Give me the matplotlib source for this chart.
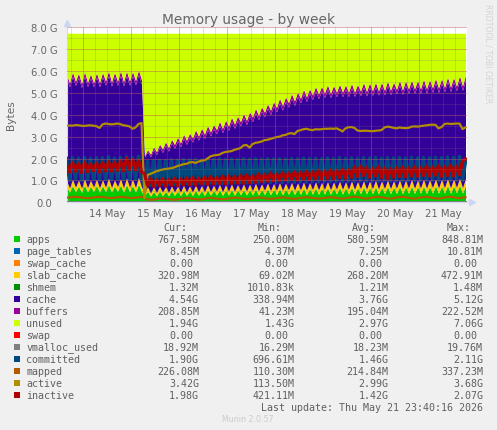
import numpy as np
import matplotlib
matplotlib.use("Agg")
import matplotlib.pyplot as plt
from matplotlib.transforms import ScaledTranslation

W, H = 497, 431
SAMPLE_DAYS = 1.5 / 24
START_DAY = -1 / 3 - 0.25 / 24

apps = [.72,.46,.76,.48,.74,.45,.78,.47,.73,.49,.77,.46,.75,.48,.80,.47,.74,.50,.78,.46,
        .81,.48,.76,.47,.83,.49,.30,.50,.28,.49,.29,.52,.30,.50,.29,.53,.31,.51,.30,.54,
        .31,.52,.30,.55,.32,.53,.31,.56,.32,.54,.33,.57,.31,.55,.33,.58,.32,.56,.34,.58,
        .33,.57,.34,.60,.33,.58,.35,.61,.34,.59,.35,.62,.34,.60,.36,.63,.35,.61,.36,.64,
        .35,.62,.37,.65,.36,.63,.37,.66,.36,.64,.38,.67,.37,.65,.38,.68,.37,.66,.39,.69,
        .38,.67,.39,.70,.38,.68,.40,.71,.39,.69,.40,.72,.39,.70,.41,.73,.40,.71,.41,.74,
        .40,.72,.42,.75,.41,.73,.42,.76,.41,.74,.43,.78,.42,.77]
slab_cache = [.26,.19,.28,.20,.27,.18,.29,.19,.27,.20,.28,.19,.27,.20,.30,.19,.27,.21,.29,.19,
        .30,.20,.28,.19,.31,.20,.14,.20,.13,.21,.14,.21,.15,.22,.14,.21,.15,.22,.15,.23,
        .15,.22,.16,.23,.15,.23,.16,.24,.16,.23,.17,.24,.16,.24,.17,.25,.17,.24,.18,.25,
        .17,.25,.18,.26,.18,.25,.19,.26,.18,.26,.19,.27,.19,.26,.20,.27,.19,.27,.20,.28,
        .20,.27,.20,.28,.20,.27,.21,.28,.20,.28,.21,.29,.21,.28,.21,.29,.21,.28,.22,.29,
        .21,.29,.22,.30,.22,.29,.22,.30,.22,.29,.23,.30,.22,.30,.23,.31,.23,.30,.23,.31,
        .23,.30,.24,.31,.23,.31,.24,.32,.24,.31,.24,.32,.24,.32]
cache = [4.66,4.62,4.70,4.65,4.68,4.60,4.69,4.62,4.66,4.58,4.66,4.62,4.70,4.66,4.68,4.64,4.72,4.62,4.72,4.66,
        4.66,4.66,4.72,4.70,4.68,4.70,1.62,1.60,1.66,1.70,1.74,1.78,1.82,1.88,1.90,1.97,2.00,2.06,2.08,2.15,
        2.18,2.22,2.28,2.33,2.36,2.42,2.44,2.50,2.54,2.58,2.62,2.68,2.70,2.76,2.78,2.84,2.88,2.92,2.96,3.02,
        3.04,3.10,3.16,3.22,3.26,3.32,3.36,3.42,3.48,3.54,3.58,3.64,3.68,3.74,3.78,3.84,3.88,3.94,3.98,4.02,
        4.05,4.08,4.12,4.14,4.17,4.18,4.21,4.20,4.22,4.20,4.23,4.21,4.24,4.22,4.23,4.24,4.25,4.23,4.26,4.27,
        4.26,4.28,4.27,4.26,4.29,4.30,4.28,4.31,4.30,4.29,4.32,4.33,4.31,4.34,4.33,4.32,4.35,4.34,4.33,4.36,
        4.35,4.37,4.36,4.38,4.37,4.40,4.38,4.42,4.40,4.44,4.42,4.46,4.45,4.50]
buffers = [.20,.19,.21,.20,.21,.19,.21,.20,.20,.19,.21,.20,.21,.20,.22,.20,.21,.20,.22,.20,
        .22,.20,.21,.20,.22,.21,.06,.10,.12,.13,.14,.15,.16,.16,.17,.17,.18,.18,.18,.19,
        .19,.19,.19,.20,.19,.20,.20,.20,.19,.20,.20,.21,.20,.20,.20,.21,.20,.21,.20,.21,
        .20,.21,.21,.21,.20,.21,.21,.21,.20,.21,.21,.22,.21,.21,.21,.22,.21,.21,.21,.22,
        .21,.21,.21,.22,.21,.21,.21,.22,.20,.21,.21,.22,.21,.21,.21,.22,.20,.21,.21,.22,
        .21,.21,.21,.22,.20,.21,.21,.22,.21,.21,.21,.22,.21,.21,.21,.22,.20,.21,.21,.22,
        .21,.21,.21,.22,.21,.21,.21,.22,.21,.21,.21,.22,.21,.21]
committed = [2.00,1.02,2.04,1.05,2.02,1.00,2.05,1.03,2.01,1.06,2.04,1.02,2.03,1.05,2.08,1.04,2.02,1.07,2.05,1.03,
        2.08,1.06,2.04,1.05,2.10,1.08,.72,1.88,.78,1.90,.80,1.92,.82,1.90,.84,1.94,.82,1.92,.85,1.96,
        .86,1.94,.84,1.96,.88,1.94,.86,1.97,.88,1.95,.87,1.98,.86,1.96,.89,1.98,.88,1.96,.90,1.99,
        .88,1.97,.90,2.00,.89,1.97,.91,2.00,.90,1.98,.92,2.00,.90,1.98,.93,2.01,.91,1.99,.93,2.02,
        .92,2.00,.94,2.02,.92,1.99,.95,2.03,.93,2.00,.95,2.04,.94,2.01,.96,2.03,.94,2.00,.97,2.04,
        .95,2.02,.97,2.05,.95,2.01,.98,2.04,.96,2.02,.98,2.05,.96,2.02,.99,2.06,.97,2.03,.99,2.05,
        .98,2.03,1.00,2.06,.98,2.04,1.01,2.07,.99,2.05,1.02,2.10,1.00,1.90]
inactive = [1.72,1.38,1.82,1.42,1.78,1.36,1.84,1.40,1.76,1.44,1.80,1.38,1.82,1.44,1.86,1.42,1.84,1.46,1.90,1.44,
        2.02,1.50,1.96,1.48,1.92,1.40,1.30,.78,1.10,.72,1.04,.76,1.08,.74,1.05,.78,1.10,.76,1.08,.80,
        1.12,.80,1.14,.78,1.10,.84,1.16,.82,1.18,.84,1.14,.86,1.20,.84,1.22,.86,1.18,.88,1.24,.86,
        1.26,.90,1.22,.92,1.30,.94,1.28,.96,1.34,.98,1.30,1.00,1.36,1.02,1.34,1.04,1.40,1.02,1.38,1.06,
        1.42,1.04,1.40,1.08,1.46,1.06,1.44,1.10,1.48,1.08,1.46,1.12,1.52,1.10,1.50,1.14,1.62,1.18,1.66,1.22,
        1.60,1.14,1.56,1.20,1.64,1.12,1.58,1.08,1.54,1.14,1.60,1.18,1.62,1.16,1.58,1.20,1.64,1.18,1.60,1.22,
        1.66,1.20,1.62,1.24,1.68,1.18,1.64,1.22,1.70,1.20,1.66,1.26,1.88,1.98]
mapped = [.21,.22,.24,.25,.24,.23,.20,.19,.20,.22,.24,.25,.24,.22,.20,.19,.21,.23,.25,.24,
        .22,.20,.19,.21,.24,.25,.20,.13,.12,.13,.15,.17,.18,.17,.15,.13,.12,.14,.16,.18,
        .19,.18,.16,.14,.13,.14,.16,.19,.20,.19,.17,.15,.14,.15,.17,.19,.21,.20,.18,.16,
        .15,.16,.18,.20,.22,.21,.19,.17,.16,.17,.19,.21,.22,.21,.19,.17,.16,.18,.20,.22,
        .23,.22,.20,.18,.17,.18,.20,.22,.23,.22,.20,.18,.17,.19,.21,.24,.25,.24,.21,.18,
        .17,.19,.22,.24,.25,.23,.20,.18,.17,.19,.22,.24,.25,.23,.20,.18,.17,.19,.22,.24,
        .25,.23,.20,.18,.17,.19,.22,.24,.25,.23,.20,.19,.21,.23]
active = [3.50,3.51,3.50,3.53,3.52,3.50,3.49,3.51,3.52,3.50,3.48,3.40,3.56,3.60,3.58,3.56,3.58,3.60,3.57,3.52,
        3.50,3.47,3.36,3.42,3.58,3.62,.20,1.25,1.30,1.36,1.42,1.46,1.50,1.52,1.54,1.56,1.60,1.66,1.70,1.74,
        1.76,1.82,1.84,1.80,1.86,1.90,1.92,2.00,2.10,2.14,2.16,2.18,2.26,2.30,2.32,2.34,2.40,2.44,2.48,2.60,
        2.62,2.50,2.66,2.72,2.74,2.78,2.84,2.86,2.90,2.94,2.98,3.00,3.06,3.08,3.14,3.16,3.12,3.26,3.30,3.34,
        3.36,3.32,3.30,3.34,3.33,3.34,3.36,3.36,3.37,3.36,3.38,3.32,3.24,3.38,3.43,3.44,3.40,3.28,3.26,3.27,
        3.27,3.26,3.25,3.27,3.28,3.30,3.42,3.46,3.44,3.40,3.38,3.42,3.40,3.39,3.40,3.46,3.47,3.46,3.48,3.50,
        3.52,3.54,3.55,3.54,3.38,3.44,3.58,3.60,3.58,3.59,3.60,3.60,3.35,3.42]
page_tables_g = 0.008
shmem_g = 0.001
vmalloc_g = 0.018
mem_total_g = 7.73

legend_names = ["apps", "page_tables", "swap_cache", "slab_cache", "shmem", "cache", "buffers",
                "unused", "swap", "vmalloc_used", "committed", "mapped", "active", "inactive"]
legend_colors = ["#00CC00", "#0066B3", "#FF8000", "#FFCC00", "#008F00", "#330099", "#990099",
                 "#CCFF00", "#FF0000", "#808080", "#00487D", "#B35A00", "#B38F00", "#B30000"]
cur_vals = ["767.58M", "8.45M", "0.00", "320.98M", "1.32M", "4.54G", "208.85M", "1.94G", "0.00",
            "18.92M", "1.90G", "226.08M", "3.42G", "1.98G"]
min_vals = ["250.00M", "4.37M", "0.00", "69.02M", "1010.83k", "338.94M", "41.23M", "1.43G", "0.00",
            "16.29M", "696.61M", "110.30M", "113.50M", "421.11M"]
avg_vals = ["580.59M", "7.25M", "0.00", "268.20M", "1.21M", "3.76G", "195.04M", "2.97G", "0.00",
            "18.23M", "1.46G", "214.84M", "2.99G", "1.42G"]
max_vals = ["848.81M", "10.81M", "0.00", "472.91M", "1.48M", "5.12G", "222.52M", "7.06G", "0.00",
            "19.76M", "2.11G", "337.23M", "3.68G", "2.07G"]
day_labels = ["14 May", "15 May", "16 May", "17 May", "18 May", "19 May", "20 May", "21 May"]
y_labels = ["0.0", "1.0 G", "2.0 G", "3.0 G", "4.0 G", "5.0 G", "6.0 G", "7.0 G", "8.0 G"]

GREY = "#666666"
fig = plt.figure(figsize=(W / 100, H / 100), dpi=100, facecolor="#f0f0f0")
ax = fig.add_axes([67 / W, (H - 203.3) / H, 400 / W, 175 / H], facecolor="white")


def px(x, y):
    return x / W, 1 - y / H


t = START_DAY + np.arange(len(apps)) * SAMPLE_DAYS
a = np.array(apps)
sl = np.array(slab_cache)
c = np.array(cache)
b = np.array(buffers)
layers = [(a, legend_colors[0]), (np.full_like(a, page_tables_g), legend_colors[1]),
          (sl, legend_colors[3]), (np.full_like(a, shmem_g), legend_colors[4]),
          (c, legend_colors[5]), (b, legend_colors[6])]
bottom = np.zeros_like(a)
for vals, col in layers:
    ax.fill_between(t, bottom, bottom + vals, color=col, lw=0, zorder=2)
    bottom = bottom + vals
ax.fill_between(t, bottom, np.full_like(a, mem_total_g), color=legend_colors[7], lw=0, zorder=2)

ax.plot(t, np.full_like(a, vmalloc_g), color=legend_colors[9], lw=1.4, zorder=3)
ax.plot(t, committed, color=legend_colors[10], lw=2.6, zorder=3, solid_joinstyle="round")
ax.plot(t, mapped, color=legend_colors[11], lw=1.6, zorder=3)
ax.plot(t, active, color=legend_colors[12], lw=1.6, zorder=3)
ax.plot(t, inactive, color=legend_colors[13], lw=2.4, zorder=3, solid_joinstyle="round")

ax.set_xlim(-1 / 3, 8)
ax.set_ylim(0, 8)
dots = (0, (1, 1))
for v in np.arange(-0.25, 8.01, 0.25):
    ax.axvline(v, color="#777777", alpha=0.45, lw=0.72, ls=dots, zorder=4)
for v in np.arange(0, 8.01, 0.5):
    ax.axhline(v, color="#777777", alpha=0.45, lw=0.72, ls=dots, zorder=4)
for v in range(0, 9):
    ax.axvline(v, color="#e05050", alpha=0.6, lw=0.72, ls=dots, zorder=5)
    ax.axhline(v, color="#e05050", alpha=0.6, lw=0.72, ls=dots, zorder=5)

for s in ("top", "right"):
    ax.spines[s].set_visible(False)
for s in ("left", "bottom"):
    ax.spines[s].set_color("#d4d8ee")
    ax.spines[s].set_linewidth(0.8)
ax.set_yticks(range(9))
ax.set_yticklabels(y_labels, fontsize=7.2, color=GREY, family="DejaVu Sans")
ax.set_xticks([i + 0.5 for i in range(8)])
ax.set_xticklabels(day_labels, fontsize=7.2, color=GREY, family="DejaVu Sans")
ax.tick_params(axis="y", length=0, pad=7)
ax.tick_params(axis="x", length=0, pad=4)
zero_label = ax.get_yticklabels()[0]
zero_label.set_transform(zero_label.get_transform() + ScaledTranslation(-5 / 100, 0, fig.dpi_scale_trans))
ax.plot([0], [1.025], transform=ax.transAxes, marker="^", ms=4.5, color="#ccd4f4", clip_on=False, zorder=6)
ax.plot([1.012], [0], transform=ax.transAxes, marker=">", ms=4.5, color="#ccd4f4", clip_on=False, zorder=6)

fig.text(*px(248.5, 20), "Memory usage - by week", ha="center", va="center", fontsize=9.9, color=GREY)
fig.text(*px(11, 115), "Bytes", rotation=90, ha="center", va="center", fontsize=7.6, color=GREY)
fig.text(*px(488, 54), "RRDTOOL / TOBI OETIKER", rotation=270, ha="center", va="center", fontsize=5.6, color="#d4d4d4")
fig.text(*px(248, 420), "Munin 2.0.57", ha="center", va="center", fontsize=5.7, color="#cccccc")

MONO = dict(family="DejaVu Sans Mono", fontsize=7.2, color="#606060", va="center")
CH = 6.0
for label, x in zip(["Cur:", "Min:", "Avg:", "Max:"], [163, 257.7, 352, 446.7]):
    fig.text(*px(x, 227.7), label, ha="left", **MONO)
columns = list(zip([cur_vals, min_vals, avg_vals, max_vals], [199, 294.3, 388.3, 483]))
for i, name in enumerate(legend_names):
    y = 240 + i * 12
    fig.patches.append(plt.Rectangle(px(14, y + 3), 6 / W, 6 / H, transform=fig.transFigure,
                                     color=legend_colors[i], lw=0))
    fig.text(*px(26.3, y), name, ha="left", **MONO)
    for vals, right in columns:
        s = vals[i]
        shift = 0 if s[-1].isalpha() else CH
        fig.text(*px(right - shift, y), s, ha="right", **MONO)
fig.text(*px(483, 407.7), "Last update: Thu May 21 23:40:16 2026", ha="right", **MONO)

fig.savefig("out.png", dpi=100, facecolor=fig.get_facecolor())
